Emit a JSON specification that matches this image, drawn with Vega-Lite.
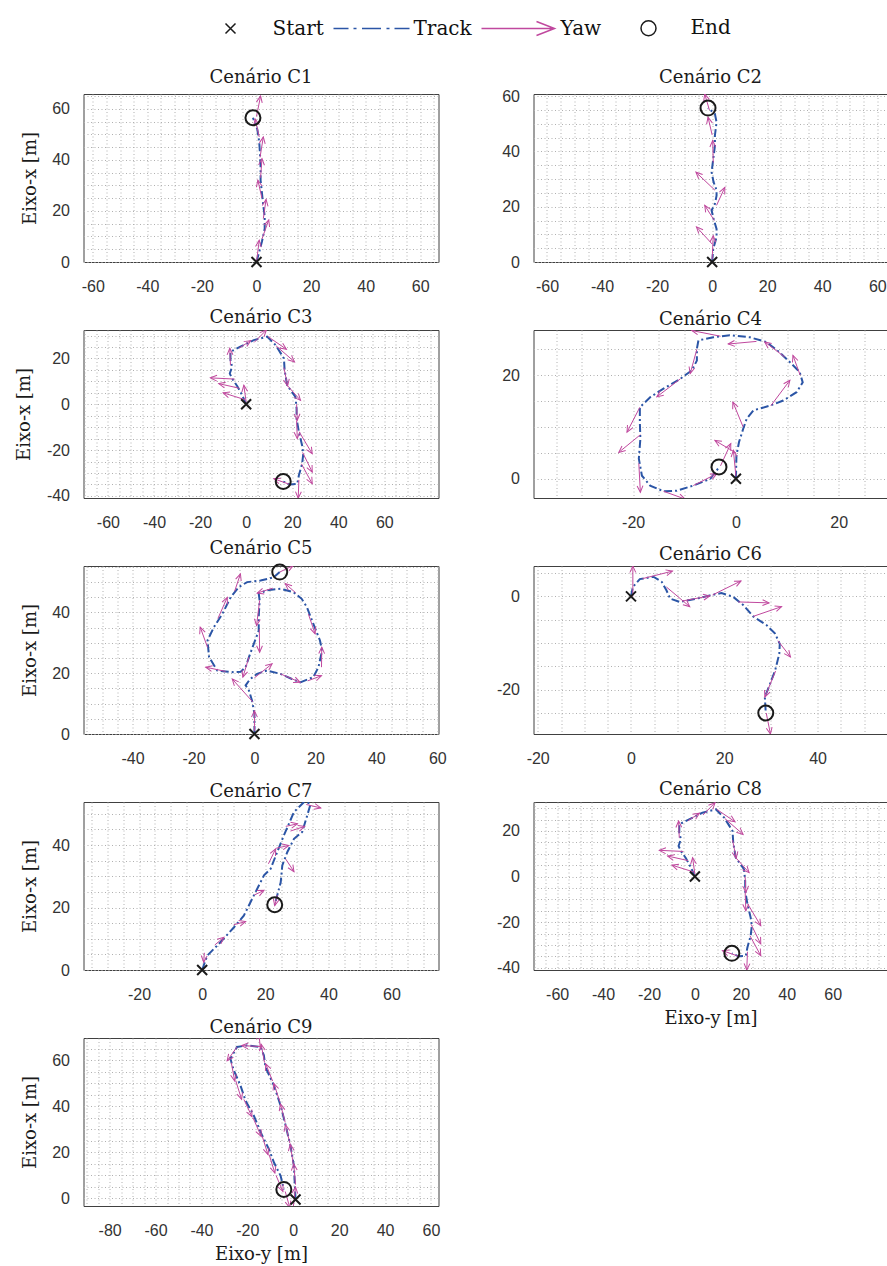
{
"$schema": "https://vega.github.io/schema/vega-lite/v6.json",
"padding": {"left": 14.5, "top": 17, "right": 0, "bottom": 0},
"autosize": {"type": "pad"},
"config": {
  "font": "Liberation Sans",
  "view": {"stroke": "#404040", "strokeWidth": 1},
  "axis": {"labelFont": "Liberation Sans", "labelFontSize": 16, "labelColor": "#333333", "titleFont": "DejaVu Serif", "titleFontSize": 18, "titleFontWeight": "normal", "titleColor": "#1a1a1a", "domain": false, "ticks": false, "grid": true, "gridColor": "#b0b0b0", "gridDash": [1, 2.5], "gridWidth": 1, "labelFlush": false, "labelOverlap": false, "labelBound": false},
  "axisX": {"labelPadding": 16, "titlePadding": 7},
  "axisY": {"labelPadding": 14, "titlePadding": 12.5},
  "title": {"font": "DejaVu Serif", "fontSize": 18, "fontWeight": "normal", "color": "#1a1a1a", "offset": 1, "frame": "group", "anchor": "middle"},
  "legend": {"labelFont": "DejaVu Serif", "labelFontSize": 20, "labelColor": "#111111", "symbolSize": 400, "labelOffset": 31, "columnPadding": 6, "padding": 0, "labelLimit": 0}
},
"datasets": {
  "track": [
    {"s":"C1","i":0,"h":0,"v":0},{"s":"C1","i":1,"h":1,"v":4},{"s":"C1","i":2,"h":2,"v":8},{"s":"C1","i":3,"h":3,"v":13},{"s":"C1","i":4,"h":3,"v":18},{"s":"C1","i":5,"h":2.5,"v":22},{"s":"C1","i":6,"h":2,"v":27},{"s":"C1","i":7,"h":1.5,"v":32},{"s":"C1","i":8,"h":1.5,"v":37},{"s":"C1","i":9,"h":1.3,"v":42},{"s":"C1","i":10,"h":1,"v":47},{"s":"C1","i":11,"h":0.3,"v":52},{"s":"C1","i":12,"h":-1.3,"v":56.5},
    {"s":"C2","i":0,"h":0,"v":0},{"s":"C2","i":1,"h":0.4,"v":4.8},{"s":"C2","i":2,"h":1.6,"v":9},{"s":"C2","i":3,"h":1.6,"v":12},{"s":"C2","i":4,"h":0.4,"v":16},{"s":"C2","i":5,"h":-0.2,"v":18.7},{"s":"C2","i":6,"h":1,"v":21},{"s":"C2","i":7,"h":1.6,"v":24},{"s":"C2","i":8,"h":1.6,"v":26},{"s":"C2","i":9,"h":0.5,"v":29},{"s":"C2","i":10,"h":-0.2,"v":32.5},{"s":"C2","i":11,"h":0.4,"v":37.3},{"s":"C2","i":12,"h":1,"v":42},{"s":"C2","i":13,"h":1,"v":45.8},{"s":"C2","i":14,"h":1.6,"v":50.6},{"s":"C2","i":15,"h":1,"v":53.6},{"s":"C2","i":16,"h":-1.5,"v":55.7},
    {"s":"C3","i":0,"h":0,"v":0},{"s":"C3","i":1,"h":-1.7,"v":3.9},{"s":"C3","i":2,"h":-3.9,"v":8},{"s":"C3","i":3,"h":-6.1,"v":11.2},{"s":"C3","i":4,"h":-7.1,"v":13.4},{"s":"C3","i":5,"h":-6.1,"v":16.4},{"s":"C3","i":6,"h":-6.8,"v":19.3},{"s":"C3","i":7,"h":-6.8,"v":22.9},{"s":"C3","i":8,"h":-2.5,"v":25.1},{"s":"C3","i":9,"h":3.3,"v":28},{"s":"C3","i":10,"h":9.1,"v":29.5},{"s":"C3","i":11,"h":12.8,"v":25.8},{"s":"C3","i":12,"h":16.4,"v":20},{"s":"C3","i":13,"h":16.7,"v":14.9},{"s":"C3","i":14,"h":17.8,"v":8.3},{"s":"C3","i":15,"h":21.4,"v":3.2},{"s":"C3","i":16,"h":21.9,"v":-1.9},{"s":"C3","i":17,"h":21.9,"v":-6.3},{"s":"C3","i":18,"h":22.9,"v":-12.1},{"s":"C3","i":19,"h":24.3,"v":-18},{"s":"C3","i":20,"h":24.8,"v":-21.6},{"s":"C3","i":21,"h":24.3,"v":-26},{"s":"C3","i":22,"h":22.9,"v":-31},{"s":"C3","i":23,"h":22.2,"v":-34.7},{"s":"C3","i":24,"h":19,"v":-35},{"s":"C3","i":25,"h":16.1,"v":-33.7},
    {"s":"C4","i":0,"h":0,"v":0},{"s":"C4","i":1,"h":0.1,"v":4.5},{"s":"C4","i":2,"h":0.6,"v":7.1},{"s":"C4","i":3,"h":1.4,"v":9.6},{"s":"C4","i":4,"h":2.1,"v":11.6},{"s":"C4","i":5,"h":3.4,"v":13.2},{"s":"C4","i":6,"h":6.6,"v":14.1},{"s":"C4","i":7,"h":9.2,"v":15.1},{"s":"C4","i":8,"h":11.8,"v":16.7},{"s":"C4","i":9,"h":13,"v":18.6},{"s":"C4","i":10,"h":12.4,"v":20.6},{"s":"C4","i":11,"h":10.5,"v":22.5},{"s":"C4","i":12,"h":8.5,"v":24.4},{"s":"C4","i":13,"h":5.9,"v":26.4},{"s":"C4","i":14,"h":2.7,"v":27.3},{"s":"C4","i":15,"h":-1.2,"v":27.7},{"s":"C4","i":16,"h":-4.4,"v":27.3},{"s":"C4","i":17,"h":-7.3,"v":26.7},{"s":"C4","i":18,"h":-7.6,"v":25.1},{"s":"C4","i":19,"h":-7.6,"v":22.8},{"s":"C4","i":20,"h":-8.6,"v":20.9},{"s":"C4","i":21,"h":-10.8,"v":19.3},{"s":"C4","i":22,"h":-14.1,"v":17.4},{"s":"C4","i":23,"h":-16.6,"v":15.8},{"s":"C4","i":24,"h":-18.7,"v":13.8},{"s":"C4","i":25,"h":-18.7,"v":10.9},{"s":"C4","i":26,"h":-18.6,"v":7.7},{"s":"C4","i":27,"h":-18.9,"v":3.9},{"s":"C4","i":28,"h":-18.3,"v":0.6},{"s":"C4","i":29,"h":-16.7,"v":-1.3},{"s":"C4","i":30,"h":-14.1,"v":-2.4},{"s":"C4","i":31,"h":-11.5,"v":-2.3},{"s":"C4","i":32,"h":-8.3,"v":-1.3},{"s":"C4","i":33,"h":-5,"v":0},{"s":"C4","i":34,"h":-3.3,"v":2.2},
    {"s":"C5","i":0,"h":0,"v":0},{"s":"C5","i":1,"h":0,"v":6.6},{"s":"C5","i":2,"h":-0.8,"v":11},{"s":"C5","i":3,"h":-1.8,"v":14.3},{"s":"C5","i":4,"h":-2.9,"v":16},{"s":"C5","i":5,"h":-1.5,"v":18},{"s":"C5","i":6,"h":0.9,"v":19.8},{"s":"C5","i":7,"h":4.1,"v":20.9},{"s":"C5","i":8,"h":8.5,"v":19.8},{"s":"C5","i":9,"h":12.3,"v":18.1},{"s":"C5","i":10,"h":15,"v":17},{"s":"C5","i":11,"h":19.3,"v":18.7},{"s":"C5","i":12,"h":21,"v":22},{"s":"C5","i":13,"h":22.2,"v":27.5},{"s":"C5","i":14,"h":21.5,"v":30.8},{"s":"C5","i":15,"h":19.3,"v":36.3},{"s":"C5","i":16,"h":17.2,"v":41.8},{"s":"C5","i":17,"h":15.5,"v":44.5},{"s":"C5","i":18,"h":12.8,"v":46.7},{"s":"C5","i":19,"h":8.5,"v":47.8},{"s":"C5","i":20,"h":4.1,"v":47.3},{"s":"C5","i":21,"h":1.4,"v":46.2},{"s":"C5","i":22,"h":1.7,"v":44},{"s":"C5","i":23,"h":1.4,"v":38.5},{"s":"C5","i":24,"h":1.4,"v":34},{"s":"C5","i":25,"h":-0.2,"v":29.7},{"s":"C5","i":26,"h":-1.8,"v":25.3},{"s":"C5","i":27,"h":-2.9,"v":22},{"s":"C5","i":28,"h":-4.5,"v":20.5},{"s":"C5","i":29,"h":-6.7,"v":20.3},{"s":"C5","i":30,"h":-9.5,"v":20.6},{"s":"C5","i":31,"h":-12.2,"v":20.9},{"s":"C5","i":32,"h":-14.9,"v":25.3},{"s":"C5","i":33,"h":-15.4,"v":30.8},{"s":"C5","i":34,"h":-13.3,"v":35.2},{"s":"C5","i":35,"h":-10.5,"v":39.6},{"s":"C5","i":36,"h":-7.8,"v":45},{"s":"C5","i":37,"h":-5.1,"v":48.4},{"s":"C5","i":38,"h":-2.4,"v":50},{"s":"C5","i":39,"h":2,"v":50.5},{"s":"C5","i":40,"h":6.3,"v":51.6},{"s":"C5","i":41,"h":8.3,"v":53.3},
    {"s":"C6","i":0,"h":0,"v":0},{"s":"C6","i":1,"h":0.4,"v":2},{"s":"C6","i":2,"h":1.9,"v":3.7},{"s":"C6","i":3,"h":4.8,"v":4.2},{"s":"C6","i":4,"h":6.6,"v":3.1},{"s":"C6","i":5,"h":7.6,"v":1.3},{"s":"C6","i":6,"h":8.4,"v":-0.5},{"s":"C6","i":7,"h":10.5,"v":-1.2},{"s":"C6","i":8,"h":14.1,"v":-0.5},{"s":"C6","i":9,"h":16.9,"v":0.2},{"s":"C6","i":10,"h":19.4,"v":0.7},{"s":"C6","i":11,"h":21.9,"v":-0.1},{"s":"C6","i":12,"h":24.1,"v":-1.9},{"s":"C6","i":13,"h":26.2,"v":-4.3},{"s":"C6","i":14,"h":29.1,"v":-6.2},{"s":"C6","i":15,"h":30.9,"v":-8},{"s":"C6","i":16,"h":31.9,"v":-10.2},{"s":"C6","i":17,"h":31.8,"v":-12.3},{"s":"C6","i":18,"h":30.9,"v":-15.9},{"s":"C6","i":19,"h":29.8,"v":-18.8},{"s":"C6","i":20,"h":28.7,"v":-21.6},{"s":"C6","i":21,"h":28.9,"v":-25},
    {"s":"C7","i":0,"h":0,"v":0},{"s":"C7","i":1,"h":1.6,"v":4.6},{"s":"C7","i":2,"h":5.8,"v":8.9},{"s":"C7","i":3,"h":10.1,"v":13.7},{"s":"C7","i":4,"h":13.2,"v":17.4},{"s":"C7","i":5,"h":16.4,"v":23.9},{"s":"C7","i":6,"h":19.6,"v":30.3},{"s":"C7","i":7,"h":21.7,"v":32.4},{"s":"C7","i":8,"h":23.8,"v":37.8},{"s":"C7","i":9,"h":25.9,"v":43.1},{"s":"C7","i":10,"h":29.1,"v":50.6},{"s":"C7","i":11,"h":32.3,"v":53.8},{"s":"C7","i":12,"h":34.4,"v":53.3},{"s":"C7","i":13,"h":33.3,"v":49.5},{"s":"C7","i":14,"h":31.7,"v":44.2},{"s":"C7","i":15,"h":29.1,"v":42},{"s":"C7","i":16,"h":27,"v":37.8},{"s":"C7","i":17,"h":25.4,"v":33.5},{"s":"C7","i":18,"h":24.9,"v":28.1},{"s":"C7","i":19,"h":23.8,"v":23.9},{"s":"C7","i":20,"h":23,"v":20.9},
    {"s":"C9","i":0,"h":1,"v":-0.5},{"s":"C9","i":1,"h":0.3,"v":14.1},{"s":"C9","i":2,"h":-1.2,"v":22.9},{"s":"C9","i":3,"h":-3.3,"v":31.6},{"s":"C9","i":4,"h":-5.5,"v":40.3},{"s":"C9","i":5,"h":-8.4,"v":49},{"s":"C9","i":6,"h":-12.1,"v":57},{"s":"C9","i":7,"h":-12.8,"v":62.2},{"s":"C9","i":8,"h":-14.3,"v":65.8},{"s":"C9","i":9,"h":-20.1,"v":66.5},{"s":"C9","i":10,"h":-24.5,"v":65.8},{"s":"C9","i":11,"h":-27.4,"v":60.7},{"s":"C9","i":12,"h":-25.9,"v":55.6},{"s":"C9","i":13,"h":-23,"v":49.1},{"s":"C9","i":14,"h":-20.8,"v":42.5},{"s":"C9","i":15,"h":-17.2,"v":36},{"s":"C9","i":16,"h":-13.5,"v":27.2},{"s":"C9","i":17,"h":-10.6,"v":21.4},{"s":"C9","i":18,"h":-8.4,"v":15.6},{"s":"C9","i":19,"h":-5.5,"v":9.8},{"s":"C9","i":20,"h":-4.1,"v":3.9}
  ],
  "yaw": [
    {"s":"C1","ht":0,"vt":0,"h":1,"v":8.5,"a":7},{"s":"C1","ht":2,"vt":9,"h":4.5,"v":16.5,"a":18},{"s":"C1","ht":2.5,"vt":17,"h":3.5,"v":24.5,"a":8},{"s":"C1","ht":2,"vt":25,"h":0.5,"v":32,"a":-12},{"s":"C1","ht":1.5,"vt":33,"h":2,"v":40.5,"a":4},{"s":"C1","ht":1.3,"vt":41,"h":2.5,"v":49,"a":9},{"s":"C1","ht":1,"vt":49,"h":-0.5,"v":56,"a":-12},{"s":"C1","ht":0,"vt":57,"h":1.5,"v":65,"a":11},
    {"s":"C2","ht":0,"vt":1,"h":0.4,"v":9.5,"a":3},{"s":"C2","ht":0,"vt":6.5,"h":-5.7,"v":12.7,"a":-43},{"s":"C2","ht":0.8,"vt":15,"h":-2.7,"v":20.5,"a":-32},{"s":"C2","ht":1.6,"vt":20.5,"h":4.6,"v":27,"a":25},{"s":"C2","ht":1,"vt":26,"h":-5.9,"v":32.5,"a":-47},{"s":"C2","ht":0.4,"vt":36,"h":0.2,"v":44,"a":-1},{"s":"C2","ht":0,"vt":46,"h":-1.5,"v":52.4,"a":-13},{"s":"C2","ht":-1,"vt":55,"h":-2.7,"v":60.8,"a":-16},
    {"s":"C3","ht":0,"vt":1,"h":-1,"v":8.3,"a":-8},{"s":"C3","ht":-0.5,"vt":2,"h":-10,"v":5,"a":-72},{"s":"C3","ht":-3,"vt":7,"h":-11.9,"v":9,"a":-77},{"s":"C3","ht":-5,"vt":11,"h":-15.5,"v":11.5,"a":-87},{"s":"C3","ht":-6.8,"vt":17,"h":-7.1,"v":24.4,"a":-2},{"s":"C3","ht":-3,"vt":24.5,"h":2,"v":27.8,"a":57},{"s":"C3","ht":3.5,"vt":27,"h":8.8,"v":32.4,"a":44},{"s":"C3","ht":9.5,"vt":29.5,"h":17.5,"v":24,"a":124},{"s":"C3","ht":13,"vt":25.5,"h":21,"v":18.5,"a":131},{"s":"C3","ht":16.4,"vt":16,"h":18,"v":8,"a":169},{"s":"C3","ht":17.8,"vt":8.3,"h":23.6,"v":1.7,"a":139},{"s":"C3","ht":21.9,"vt":0,"h":22.2,"v":-7,"a":178},{"s":"C3","ht":21.9,"vt":-7,"h":22.2,"v":-15,"a":178},{"s":"C3","ht":23,"vt":-12,"h":28.7,"v":-21.6,"a":149},{"s":"C3","ht":24.5,"vt":-21,"h":28.7,"v":-29.6,"a":154},{"s":"C3","ht":24,"vt":-26,"h":28.7,"v":-34.7,"a":152},{"s":"C3","ht":22.9,"vt":-33,"h":22.6,"v":-41,"a":182},{"s":"C3","ht":19,"vt":-35,"h":12,"v":-32.5,"a":-70},
    {"s":"C4","ht":0,"vt":0.5,"h":-0.5,"v":5.5,"a":-6},{"s":"C4","ht":0,"vt":5,"h":-4.1,"v":7.4,"a":-60},{"s":"C4","ht":-3,"vt":2.5,"h":-1,"v":6.8,"a":25},{"s":"C4","ht":1.4,"vt":10,"h":-0.6,"v":14.8,"a":-23},{"s":"C4","ht":6.8,"vt":14.1,"h":10.5,"v":19,"a":37},{"s":"C4","ht":12.5,"vt":20,"h":11.1,"v":23.8,"a":-20},{"s":"C4","ht":9.5,"vt":23.5,"h":5.6,"v":26.4,"a":-53},{"s":"C4","ht":4,"vt":26.5,"h":-1.5,"v":26,"a":-95},{"s":"C4","ht":-3,"vt":27.5,"h":-8.6,"v":28.6,"a":-79},{"s":"C4","ht":-7.6,"vt":25,"h":-8.9,"v":20.3,"a":-165},{"s":"C4","ht":-10.8,"vt":19.3,"h":-15.4,"v":15.8,"a":-127},{"s":"C4","ht":-18.7,"vt":13.8,"h":-21.2,"v":9,"a":-152},{"s":"C4","ht":-18.6,"vt":8.5,"h":-22.8,"v":5.1,"a":-129},{"s":"C4","ht":-18.9,"vt":3,"h":-18.6,"v":-2.6,"a":177},{"s":"C4","ht":-14.1,"vt":-2.4,"h":-9.9,"v":-3.9,"a":110},{"s":"C4","ht":-8.3,"vt":-1.3,"h":-3.7,"v":1,"a":63},
    {"s":"C5","ht":0,"vt":1,"h":0,"v":7.7,"a":0},{"s":"C5","ht":-0.5,"vt":10.5,"h":-7.3,"v":18.1,"a":-42},{"s":"C5","ht":-1.8,"vt":25.3,"h":-3.8,"v":18.7,"a":-163},{"s":"C5","ht":0,"vt":18.5,"h":5.8,"v":23.1,"a":52},{"s":"C5","ht":8.5,"vt":19.8,"h":15,"v":17,"a":113},{"s":"C5","ht":17.5,"vt":17.5,"h":22,"v":19.2,"a":69},{"s":"C5","ht":22,"vt":22,"h":22.1,"v":28.6,"a":1},{"s":"C5","ht":17.7,"vt":39.5,"h":19.9,"v":33,"a":161},{"s":"C5","ht":13.5,"vt":46.5,"h":10.1,"v":49.5,"a":-49},{"s":"C5","ht":6,"vt":48,"h":0.9,"v":46.4,"a":-107},{"s":"C5","ht":1.7,"vt":44,"h":0.7,"v":35.7,"a":-173},{"s":"C5","ht":1.6,"vt":34.5,"h":1.7,"v":26.9,"a":179},{"s":"C5","ht":-9.5,"vt":20.6,"h":-16,"v":22,"a":-78},{"s":"C5","ht":-15.4,"vt":28.5,"h":-17.8,"v":35.2,"a":-20},{"s":"C5","ht":-12,"vt":38,"h":-8.9,"v":45,"a":24},{"s":"C5","ht":-6.5,"vt":47,"h":-4.6,"v":52.7,"a":18},{"s":"C5","ht":8.3,"vt":53.3,"h":12.8,"v":55.5,"a":64},
    {"s":"C6","ht":0.4,"vt":0,"h":0.4,"v":6.5,"a":0},{"s":"C6","ht":2.5,"vt":3.8,"h":8.9,"v":5.4,"a":76},{"s":"C6","ht":7.6,"vt":2,"h":12.6,"v":-2.2,"a":130},{"s":"C6","ht":11,"vt":-1,"h":16.9,"v":0.1,"a":79},{"s":"C6","ht":17.5,"vt":0.3,"h":23.6,"v":3.3,"a":64},{"s":"C6","ht":23,"vt":-1.2,"h":29.6,"v":-1.4,"a":92},{"s":"C6","ht":26.2,"vt":-4.3,"h":32.3,"v":-2.2,"a":71},{"s":"C6","ht":31.5,"vt":-9.5,"h":34.2,"v":-13,"a":142},{"s":"C6","ht":31,"vt":-16,"h":28.7,"v":-21.6,"a":-158},{"s":"C6","ht":29,"vt":-25,"h":29.9,"v":-29.5,"a":169},
    {"s":"C7","ht":0.7,"vt":5.5,"h":0.5,"v":2.5,"a":-176},{"s":"C7","ht":4,"vt":8,"h":6.9,"v":10.5,"a":49},{"s":"C7","ht":10,"vt":14.5,"h":13.8,"v":15.5,"a":75},{"s":"C7","ht":16.5,"vt":24,"h":19.6,"v":25.5,"a":64},{"s":"C7","ht":21,"vt":34,"h":23.3,"v":38.8,"a":26},{"s":"C7","ht":23.5,"vt":39,"h":27.5,"v":39.9,"a":77},{"s":"C7","ht":26.5,"vt":46,"h":30.2,"v":46.8,"a":78},{"s":"C7","ht":28,"vt":44.5,"h":32.5,"v":46,"a":72},{"s":"C7","ht":33,"vt":53,"h":37.6,"v":51.9,"a":103},{"s":"C7","ht":26.5,"vt":35.5,"h":29.1,"v":31.5,"a":147},{"s":"C7","ht":23.8,"vt":24,"h":23,"v":20.6,"a":-167},
    {"s":"C9","ht":0,"vt":-4,"h":1,"v":5,"a":6},{"s":"C9","ht":1,"vt":6,"h":0.2,"v":15,"a":-5},{"s":"C9","ht":0,"vt":15,"h":-1.3,"v":23.5,"a":-9},{"s":"C9","ht":-1.5,"vt":24,"h":-3.4,"v":32,"a":-13},{"s":"C9","ht":-3.5,"vt":33,"h":-5.6,"v":41,"a":-15},{"s":"C9","ht":-5.8,"vt":42,"h":-8.5,"v":50,"a":-19},{"s":"C9","ht":-9,"vt":51,"h":-12,"v":58.5,"a":-22},{"s":"C9","ht":-12.5,"vt":59,"h":-14,"v":67,"a":-11},{"s":"C9","ht":-14.3,"vt":65,"h":-15,"v":72,"a":-6},{"s":"C9","ht":-14.5,"vt":66,"h":-22.5,"v":66.4,"a":-87},{"s":"C9","ht":-24.5,"vt":65.8,"h":-28.8,"v":59.8,"a":-144},{"s":"C9","ht":-27,"vt":59,"h":-25.5,"v":51,"a":169},{"s":"C9","ht":-25,"vt":51,"h":-22.5,"v":43,"a":163},{"s":"C9","ht":-21.5,"vt":43,"h":-18,"v":35.5,"a":155},{"s":"C9","ht":-17.5,"vt":35,"h":-14,"v":27,"a":156},{"s":"C9","ht":-13.5,"vt":27,"h":-11,"v":19,"a":163},{"s":"C9","ht":-10.5,"vt":19,"h":-8,"v":11,"a":163},{"s":"C9","ht":-7.5,"vt":10,"h":-4.5,"v":3,"a":157},{"s":"C9","ht":-3.5,"vt":3,"h":-1.5,"v":-4,"a":164}
  ],
  "pts": [
    {"s":"C1","k":"Start","h":0,"v":0},{"s":"C1","k":"End","h":-1.3,"v":56.5},
    {"s":"C2","k":"Start","h":0,"v":0},{"s":"C2","k":"End","h":-1.5,"v":55.7},
    {"s":"C3","k":"Start","h":0,"v":0},{"s":"C3","k":"End","h":16.1,"v":-33.7},
    {"s":"C4","k":"Start","h":0,"v":0},{"s":"C4","k":"End","h":-3.3,"v":2.3},
    {"s":"C5","k":"Start","h":0,"v":0},{"s":"C5","k":"End","h":8.3,"v":53.3},
    {"s":"C6","k":"Start","h":0,"v":0},{"s":"C6","k":"End","h":28.9,"v":-25},
    {"s":"C7","k":"Start","h":0,"v":0},{"s":"C7","k":"End","h":23,"v":20.9},
    {"s":"C9","k":"Start","h":1,"v":-0.5},{"s":"C9","k":"End","h":-4.1,"v":3.9}
  ]
},
"columns": 2,
"spacing": {"row": 68, "column": 95},
"bounds": "flush",
"resolve": {"scale": {"shape": "shared", "color": "shared"}, "legend": {"shape": "shared", "color": "shared"}},
"concat": [
  {"width":355,"height":168,"title":"Cenário C1",
   "encoding":{"x":{"field":"h","type":"quantitative","scale":{"domain":[-63.4,66.7],"nice":false,"zero":false},"axis":{"title":null,"values":[-60,-55,-50,-45,-40,-35,-30,-25,-20,-15,-10,-5,0,5,10,15,20,25,30,35,40,45,50,55,60,65],"labelExpr":"datum.value % 20 === 0 ? '' + datum.value : ''"}},
               "y":{"field":"v","type":"quantitative","scale":{"domain":[0,65.8],"nice":false,"zero":false},"axis":{"title":"Eixo-x [m]","values":[0,5,10,15,20,25,30,35,40,45,50,55,60,65],"labelExpr":"datum.value % 20 === 0 ? '' + datum.value : ''"}}},
   "layer":[
    {"data":{"name":"track"},"transform":[{"filter":"datum.s === 'C1'"}],"mark":{"type":"line","clip":true,"color":"#2b55a6","strokeWidth":2,"strokeDash":[8,3,2,3]},"encoding":{"order":{"field":"i","type":"quantitative"}}},
    {"data":{"name":"yaw"},"transform":[{"filter":"datum.s === 'C1'"}],"mark":{"type":"rule","clip":true,"color":"#c0489e","strokeWidth":1},"encoding":{"x2":{"field":"ht"},"y2":{"field":"vt"}}},
    {"data":{"name":"yaw"},"transform":[{"filter":"datum.s === 'C1'"}],"mark":{"type":"point","clip":true,"shape":"M-0.45,1L0,0L0.45,1","filled":false,"color":"#c0489e","strokeWidth":1,"size":169,"opacity":1},"encoding":{"angle":{"field":"a","type":"quantitative","scale":null}}},
    {"data":{"name":"pts"},"transform":[{"filter":"datum.s === 'C1'"}],"mark":{"type":"point","filled":false,"strokeWidth":2,"size":400,"opacity":1},"encoding":{
      "shape":{"field":"k","type":"nominal","scale":{"domain":["Start","Track","Yaw","End"],"range":["M-3.8,0M3.8,0M-0.5,-0.5L0.5,0.5M-0.5,0.5L0.5,-0.5","M-3.8,0L-2.3,0M-1.8,0L-1.5,0M-0.95,0L0.95,0M1.5,0L1.8,0M2.3,0L3.8,0","M-3.7,0L3.6,0M1.8,-0.7L3.6,0L1.8,0.7","M-3.8,0M3.8,0M0.75,0A0.75,0.75 0 1 1 -0.75,0A0.75,0.75 0 1 1 0.75,0Z"]},"legend":{"orient":"none","legendX":136,"legendY":-77,"direction":"horizontal","title":null}},
      "color":{"field":"k","type":"nominal","scale":{"domain":["Start","Track","Yaw","End"],"range":["#1a1a1a","#2b55a6","#c0489e","#1a1a1a"]},"legend":{"orient":"none","legendX":136,"legendY":-77,"direction":"horizontal","title":null}}}}
   ]},
  {"width":354,"height":168,"title":"Cenário C2",
   "encoding":{"x":{"field":"h","type":"quantitative","scale":{"domain":[-64.9,63.7],"nice":false,"zero":false},"axis":{"title":null,"values":[-60,-55,-50,-45,-40,-35,-30,-25,-20,-15,-10,-5,0,5,10,15,20,25,30,35,40,45,50,55,60],"labelExpr":"datum.value % 20 === 0 ? '' + datum.value : ''"}},
               "y":{"field":"v","type":"quantitative","scale":{"domain":[0,60.8],"nice":false,"zero":false},"axis":{"title":null,"values":[0,5,10,15,20,25,30,35,40,45,50,55,60],"labelExpr":"datum.value % 20 === 0 ? '' + datum.value : ''"}}},
   "layer":[
    {"data":{"name":"track"},"transform":[{"filter":"datum.s === 'C2'"}],"mark":{"type":"line","clip":true,"color":"#2b55a6","strokeWidth":2,"strokeDash":[8,3,2,3]},"encoding":{"order":{"field":"i","type":"quantitative"}}},
    {"data":{"name":"yaw"},"transform":[{"filter":"datum.s === 'C2'"}],"mark":{"type":"rule","clip":true,"color":"#c0489e","strokeWidth":1},"encoding":{"x2":{"field":"ht"},"y2":{"field":"vt"}}},
    {"data":{"name":"yaw"},"transform":[{"filter":"datum.s === 'C2'"}],"mark":{"type":"point","clip":true,"shape":"M-0.45,1L0,0L0.45,1","filled":false,"color":"#c0489e","strokeWidth":1,"size":169,"opacity":1},"encoding":{"angle":{"field":"a","type":"quantitative","scale":null}}},
    {"data":{"name":"pts"},"transform":[{"filter":"datum.s === 'C2'"}],"mark":{"type":"point","filled":false,"strokeWidth":2,"size":400,"opacity":1},"encoding":{
      "shape":{"field":"k","type":"nominal","scale":{"domain":["Start","Track","Yaw","End"],"range":["M-3.8,0M3.8,0M-0.5,-0.5L0.5,0.5M-0.5,0.5L0.5,-0.5","M-3.8,0L-2.3,0M-1.8,0L-1.5,0M-0.95,0L0.95,0M1.5,0L1.8,0M2.3,0L3.8,0","M-3.7,0L3.6,0M1.8,-0.7L3.6,0L1.8,0.7","M-3.8,0M3.8,0M0.75,0A0.75,0.75 0 1 1 -0.75,0A0.75,0.75 0 1 1 0.75,0Z"]},"legend":{"orient":"none","legendX":136,"legendY":-77,"direction":"horizontal","title":null}},
      "color":{"field":"k","type":"nominal","scale":{"domain":["Start","Track","Yaw","End"],"range":["#1a1a1a","#2b55a6","#c0489e","#1a1a1a"]},"legend":{"orient":"none","legendX":136,"legendY":-77,"direction":"horizontal","title":null}}}}
   ]},
  {"width":355,"height":168,"title":"Cenário C3",
   "encoding":{"x":{"field":"h","type":"quantitative","scale":{"domain":[-70.6,83.5],"nice":false,"zero":false},"axis":{"title":null,"values":[-70,-65,-60,-55,-50,-45,-40,-35,-30,-25,-20,-15,-10,-5,0,5,10,15,20,25,30,35,40,45,50,55,60,65,70,75,80],"labelExpr":"datum.value % 20 === 0 && datum.value < 70 ? '' + datum.value : ''"}},
               "y":{"field":"v","type":"quantitative","scale":{"domain":[-40.9,32.4],"nice":false,"zero":false},"axis":{"title":"Eixo-x [m]","values":[-40,-35,-30,-25,-20,-15,-10,-5,0,5,10,15,20,25,30],"labelExpr":"datum.value % 20 === 0 ? '' + datum.value : ''"}}},
   "layer":[
    {"data":{"name":"track"},"transform":[{"filter":"datum.s === 'C3'"}],"mark":{"type":"line","clip":true,"color":"#2b55a6","strokeWidth":2,"strokeDash":[8,3,2,3]},"encoding":{"order":{"field":"i","type":"quantitative"}}},
    {"data":{"name":"yaw"},"transform":[{"filter":"datum.s === 'C3'"}],"mark":{"type":"rule","clip":true,"color":"#c0489e","strokeWidth":1},"encoding":{"x2":{"field":"ht"},"y2":{"field":"vt"}}},
    {"data":{"name":"yaw"},"transform":[{"filter":"datum.s === 'C3'"}],"mark":{"type":"point","clip":true,"shape":"M-0.45,1L0,0L0.45,1","filled":false,"color":"#c0489e","strokeWidth":1,"size":169,"opacity":1},"encoding":{"angle":{"field":"a","type":"quantitative","scale":null}}},
    {"data":{"name":"pts"},"transform":[{"filter":"datum.s === 'C3'"}],"mark":{"type":"point","filled":false,"strokeWidth":2,"size":400,"opacity":1},"encoding":{
      "shape":{"field":"k","type":"nominal","scale":{"domain":["Start","Track","Yaw","End"],"range":["M-3.8,0M3.8,0M-0.5,-0.5L0.5,0.5M-0.5,0.5L0.5,-0.5","M-3.8,0L-2.3,0M-1.8,0L-1.5,0M-0.95,0L0.95,0M1.5,0L1.8,0M2.3,0L3.8,0","M-3.7,0L3.6,0M1.8,-0.7L3.6,0L1.8,0.7","M-3.8,0M3.8,0M0.75,0A0.75,0.75 0 1 1 -0.75,0A0.75,0.75 0 1 1 0.75,0Z"]},"legend":{"orient":"none","legendX":136,"legendY":-77,"direction":"horizontal","title":null}},
      "color":{"field":"k","type":"nominal","scale":{"domain":["Start","Track","Yaw","End"],"range":["#1a1a1a","#2b55a6","#c0489e","#1a1a1a"]},"legend":{"orient":"none","legendX":136,"legendY":-77,"direction":"horizontal","title":null}}}}
   ]},
  {"width":354,"height":168,"title":"Cenário C4",
   "encoding":{"x":{"field":"h","type":"quantitative","scale":{"domain":[-39.4,29.5],"nice":false,"zero":false},"axis":{"title":null,"values":[-35,-30,-25,-20,-15,-10,-5,0,5,10,15,20,25],"labelExpr":"datum.value % 20 === 0 ? '' + datum.value : ''"}},
               "y":{"field":"v","type":"quantitative","scale":{"domain":[-3.7,28.7],"nice":false,"zero":false},"axis":{"title":null,"values":[0,5,10,15,20,25],"labelExpr":"datum.value % 20 === 0 ? '' + datum.value : ''"}}},
   "layer":[
    {"data":{"name":"track"},"transform":[{"filter":"datum.s === 'C4'"}],"mark":{"type":"line","clip":true,"color":"#2b55a6","strokeWidth":2,"strokeDash":[8,3,2,3]},"encoding":{"order":{"field":"i","type":"quantitative"}}},
    {"data":{"name":"yaw"},"transform":[{"filter":"datum.s === 'C4'"}],"mark":{"type":"rule","clip":true,"color":"#c0489e","strokeWidth":1},"encoding":{"x2":{"field":"ht"},"y2":{"field":"vt"}}},
    {"data":{"name":"yaw"},"transform":[{"filter":"datum.s === 'C4'"}],"mark":{"type":"point","clip":true,"shape":"M-0.45,1L0,0L0.45,1","filled":false,"color":"#c0489e","strokeWidth":1,"size":169,"opacity":1},"encoding":{"angle":{"field":"a","type":"quantitative","scale":null}}},
    {"data":{"name":"pts"},"transform":[{"filter":"datum.s === 'C4'"}],"mark":{"type":"point","filled":false,"strokeWidth":2,"size":400,"opacity":1},"encoding":{
      "shape":{"field":"k","type":"nominal","scale":{"domain":["Start","Track","Yaw","End"],"range":["M-3.8,0M3.8,0M-0.5,-0.5L0.5,0.5M-0.5,0.5L0.5,-0.5","M-3.8,0L-2.3,0M-1.8,0L-1.5,0M-0.95,0L0.95,0M1.5,0L1.8,0M2.3,0L3.8,0","M-3.7,0L3.6,0M1.8,-0.7L3.6,0L1.8,0.7","M-3.8,0M3.8,0M0.75,0A0.75,0.75 0 1 1 -0.75,0A0.75,0.75 0 1 1 0.75,0Z"]},"legend":{"orient":"none","legendX":136,"legendY":-77,"direction":"horizontal","title":null}},
      "color":{"field":"k","type":"nominal","scale":{"domain":["Start","Track","Yaw","End"],"range":["#1a1a1a","#2b55a6","#c0489e","#1a1a1a"]},"legend":{"orient":"none","legendX":136,"legendY":-77,"direction":"horizontal","title":null}}}}
   ]},
  {"width":355,"height":168,"title":"Cenário C5",
   "encoding":{"x":{"field":"h","type":"quantitative","scale":{"domain":[-56.1,60.4],"nice":false,"zero":false},"axis":{"title":null,"values":[-55,-50,-45,-40,-35,-30,-25,-20,-15,-10,-5,0,5,10,15,20,25,30,35,40,45,50,55,60],"labelExpr":"datum.value % 20 === 0 ? '' + datum.value : ''"}},
               "y":{"field":"v","type":"quantitative","scale":{"domain":[0,55.3],"nice":false,"zero":false},"axis":{"title":"Eixo-x [m]","values":[0,5,10,15,20,25,30,35,40,45,50,55],"labelExpr":"datum.value % 20 === 0 ? '' + datum.value : ''"}}},
   "layer":[
    {"data":{"name":"track"},"transform":[{"filter":"datum.s === 'C5'"}],"mark":{"type":"line","clip":true,"color":"#2b55a6","strokeWidth":2,"strokeDash":[8,3,2,3]},"encoding":{"order":{"field":"i","type":"quantitative"}}},
    {"data":{"name":"yaw"},"transform":[{"filter":"datum.s === 'C5'"}],"mark":{"type":"rule","clip":true,"color":"#c0489e","strokeWidth":1},"encoding":{"x2":{"field":"ht"},"y2":{"field":"vt"}}},
    {"data":{"name":"yaw"},"transform":[{"filter":"datum.s === 'C5'"}],"mark":{"type":"point","clip":true,"shape":"M-0.45,1L0,0L0.45,1","filled":false,"color":"#c0489e","strokeWidth":1,"size":169,"opacity":1},"encoding":{"angle":{"field":"a","type":"quantitative","scale":null}}},
    {"data":{"name":"pts"},"transform":[{"filter":"datum.s === 'C5'"}],"mark":{"type":"point","filled":false,"strokeWidth":2,"size":400,"opacity":1},"encoding":{
      "shape":{"field":"k","type":"nominal","scale":{"domain":["Start","Track","Yaw","End"],"range":["M-3.8,0M3.8,0M-0.5,-0.5L0.5,0.5M-0.5,0.5L0.5,-0.5","M-3.8,0L-2.3,0M-1.8,0L-1.5,0M-0.95,0L0.95,0M1.5,0L1.8,0M2.3,0L3.8,0","M-3.7,0L3.6,0M1.8,-0.7L3.6,0L1.8,0.7","M-3.8,0M3.8,0M0.75,0A0.75,0.75 0 1 1 -0.75,0A0.75,0.75 0 1 1 0.75,0Z"]},"legend":{"orient":"none","legendX":136,"legendY":-77,"direction":"horizontal","title":null}},
      "color":{"field":"k","type":"nominal","scale":{"domain":["Start","Track","Yaw","End"],"range":["#1a1a1a","#2b55a6","#c0489e","#1a1a1a"]},"legend":{"orient":"none","legendX":136,"legendY":-77,"direction":"horizontal","title":null}}}}
   ]},
  {"width":354,"height":168,"title":"Cenário C6",
   "encoding":{"x":{"field":"h","type":"quantitative","scale":{"domain":[-20.9,55],"nice":false,"zero":false},"axis":{"title":null,"values":[-20,-15,-10,-5,0,5,10,15,20,25,30,35,40,45,50],"labelExpr":"datum.value % 20 === 0 ? '' + datum.value : ''"}},
               "y":{"field":"v","type":"quantitative","scale":{"domain":[-29.5,6.5],"nice":false,"zero":false},"axis":{"title":null,"values":[-25,-20,-15,-10,-5,0,5],"labelExpr":"datum.value % 20 === 0 ? '' + datum.value : ''"}}},
   "layer":[
    {"data":{"name":"track"},"transform":[{"filter":"datum.s === 'C6'"}],"mark":{"type":"line","clip":true,"color":"#2b55a6","strokeWidth":2,"strokeDash":[8,3,2,3]},"encoding":{"order":{"field":"i","type":"quantitative"}}},
    {"data":{"name":"yaw"},"transform":[{"filter":"datum.s === 'C6'"}],"mark":{"type":"rule","clip":true,"color":"#c0489e","strokeWidth":1},"encoding":{"x2":{"field":"ht"},"y2":{"field":"vt"}}},
    {"data":{"name":"yaw"},"transform":[{"filter":"datum.s === 'C6'"}],"mark":{"type":"point","clip":true,"shape":"M-0.45,1L0,0L0.45,1","filled":false,"color":"#c0489e","strokeWidth":1,"size":169,"opacity":1},"encoding":{"angle":{"field":"a","type":"quantitative","scale":null}}},
    {"data":{"name":"pts"},"transform":[{"filter":"datum.s === 'C6'"}],"mark":{"type":"point","filled":false,"strokeWidth":2,"size":400,"opacity":1},"encoding":{
      "shape":{"field":"k","type":"nominal","scale":{"domain":["Start","Track","Yaw","End"],"range":["M-3.8,0M3.8,0M-0.5,-0.5L0.5,0.5M-0.5,0.5L0.5,-0.5","M-3.8,0L-2.3,0M-1.8,0L-1.5,0M-0.95,0L0.95,0M1.5,0L1.8,0M2.3,0L3.8,0","M-3.7,0L3.6,0M1.8,-0.7L3.6,0L1.8,0.7","M-3.8,0M3.8,0M0.75,0A0.75,0.75 0 1 1 -0.75,0A0.75,0.75 0 1 1 0.75,0Z"]},"legend":{"orient":"none","legendX":136,"legendY":-77,"direction":"horizontal","title":null}},
      "color":{"field":"k","type":"nominal","scale":{"domain":["Start","Track","Yaw","End"],"range":["#1a1a1a","#2b55a6","#c0489e","#1a1a1a"]},"legend":{"orient":"none","legendX":136,"legendY":-77,"direction":"horizontal","title":null}}}}
   ]},
  {"width":355,"height":168,"title":"Cenário C7",
   "encoding":{"x":{"field":"h","type":"quantitative","scale":{"domain":[-37.6,74.9],"nice":false,"zero":false},"axis":{"title":null,"values":[-35,-30,-25,-20,-15,-10,-5,0,5,10,15,20,25,30,35,40,45,50,55,60,65,70],"labelExpr":"datum.value % 20 === 0 ? '' + datum.value : ''"}},
               "y":{"field":"v","type":"quantitative","scale":{"domain":[0,53.8],"nice":false,"zero":false},"axis":{"title":"Eixo-x [m]","values":[0,5,10,15,20,25,30,35,40,45,50],"labelExpr":"datum.value % 20 === 0 ? '' + datum.value : ''"}}},
   "layer":[
    {"data":{"name":"track"},"transform":[{"filter":"datum.s === 'C7'"}],"mark":{"type":"line","clip":true,"color":"#2b55a6","strokeWidth":2,"strokeDash":[8,3,2,3]},"encoding":{"order":{"field":"i","type":"quantitative"}}},
    {"data":{"name":"yaw"},"transform":[{"filter":"datum.s === 'C7'"}],"mark":{"type":"rule","clip":true,"color":"#c0489e","strokeWidth":1},"encoding":{"x2":{"field":"ht"},"y2":{"field":"vt"}}},
    {"data":{"name":"yaw"},"transform":[{"filter":"datum.s === 'C7'"}],"mark":{"type":"point","clip":true,"shape":"M-0.45,1L0,0L0.45,1","filled":false,"color":"#c0489e","strokeWidth":1,"size":169,"opacity":1},"encoding":{"angle":{"field":"a","type":"quantitative","scale":null}}},
    {"data":{"name":"pts"},"transform":[{"filter":"datum.s === 'C7'"}],"mark":{"type":"point","filled":false,"strokeWidth":2,"size":400,"opacity":1},"encoding":{
      "shape":{"field":"k","type":"nominal","scale":{"domain":["Start","Track","Yaw","End"],"range":["M-3.8,0M3.8,0M-0.5,-0.5L0.5,0.5M-0.5,0.5L0.5,-0.5","M-3.8,0L-2.3,0M-1.8,0L-1.5,0M-0.95,0L0.95,0M1.5,0L1.8,0M2.3,0L3.8,0","M-3.7,0L3.6,0M1.8,-0.7L3.6,0L1.8,0.7","M-3.8,0M3.8,0M0.75,0A0.75,0.75 0 1 1 -0.75,0A0.75,0.75 0 1 1 0.75,0Z"]},"legend":{"orient":"none","legendX":136,"legendY":-77,"direction":"horizontal","title":null}},
      "color":{"field":"k","type":"nominal","scale":{"domain":["Start","Track","Yaw","End"],"range":["#1a1a1a","#2b55a6","#c0489e","#1a1a1a"]},"legend":{"orient":"none","legendX":136,"legendY":-77,"direction":"horizontal","title":null}}}}
   ]},
  {"width":354,"height":168,"title":"Cenário C8",
   "encoding":{"x":{"field":"h","type":"quantitative","scale":{"domain":[-70.3,83.9],"nice":false,"zero":false},"axis":{"title":"Eixo-y [m]","values":[-70,-65,-60,-55,-50,-45,-40,-35,-30,-25,-20,-15,-10,-5,0,5,10,15,20,25,30,35,40,45,50,55,60,65,70,75,80],"labelExpr":"datum.value % 20 === 0 && datum.value < 70 ? '' + datum.value : ''"}},
               "y":{"field":"v","type":"quantitative","scale":{"domain":[-41,32.7],"nice":false,"zero":false},"axis":{"title":null,"values":[-40,-35,-30,-25,-20,-15,-10,-5,0,5,10,15,20,25,30],"labelExpr":"datum.value % 20 === 0 ? '' + datum.value : ''"}}},
   "layer":[
    {"data":{"name":"track"},"transform":[{"filter":"datum.s === 'C3'"}],"mark":{"type":"line","clip":true,"color":"#2b55a6","strokeWidth":2,"strokeDash":[8,3,2,3]},"encoding":{"order":{"field":"i","type":"quantitative"}}},
    {"data":{"name":"yaw"},"transform":[{"filter":"datum.s === 'C3'"}],"mark":{"type":"rule","clip":true,"color":"#c0489e","strokeWidth":1},"encoding":{"x2":{"field":"ht"},"y2":{"field":"vt"}}},
    {"data":{"name":"yaw"},"transform":[{"filter":"datum.s === 'C3'"}],"mark":{"type":"point","clip":true,"shape":"M-0.45,1L0,0L0.45,1","filled":false,"color":"#c0489e","strokeWidth":1,"size":169,"opacity":1},"encoding":{"angle":{"field":"a","type":"quantitative","scale":null}}},
    {"data":{"name":"pts"},"transform":[{"filter":"datum.s === 'C3'"}],"mark":{"type":"point","filled":false,"strokeWidth":2,"size":400,"opacity":1},"encoding":{
      "shape":{"field":"k","type":"nominal","scale":{"domain":["Start","Track","Yaw","End"],"range":["M-3.8,0M3.8,0M-0.5,-0.5L0.5,0.5M-0.5,0.5L0.5,-0.5","M-3.8,0L-2.3,0M-1.8,0L-1.5,0M-0.95,0L0.95,0M1.5,0L1.8,0M2.3,0L3.8,0","M-3.7,0L3.6,0M1.8,-0.7L3.6,0L1.8,0.7","M-3.8,0M3.8,0M0.75,0A0.75,0.75 0 1 1 -0.75,0A0.75,0.75 0 1 1 0.75,0Z"]},"legend":{"orient":"none","legendX":136,"legendY":-77,"direction":"horizontal","title":null}},
      "color":{"field":"k","type":"nominal","scale":{"domain":["Start","Track","Yaw","End"],"range":["#1a1a1a","#2b55a6","#c0489e","#1a1a1a"]},"legend":{"orient":"none","legendX":136,"legendY":-77,"direction":"horizontal","title":null}}}}
   ]},
  {"width":355,"height":168,"title":"Cenário C9",
   "encoding":{"x":{"field":"h","type":"quantitative","scale":{"domain":[-91.4,63.3],"nice":false,"zero":false},"axis":{"title":"Eixo-y [m]","values":[-90,-85,-80,-75,-70,-65,-60,-55,-50,-45,-40,-35,-30,-25,-20,-15,-10,-5,0,5,10,15,20,25,30,35,40,45,50,55,60],"labelExpr":"datum.value % 20 === 0 ? '' + datum.value : ''"}},
               "y":{"field":"v","type":"quantitative","scale":{"domain":[-3.3,69.7],"nice":false,"zero":false},"axis":{"title":"Eixo-x [m]","values":[0,5,10,15,20,25,30,35,40,45,50,55,60,65],"labelExpr":"datum.value % 20 === 0 ? '' + datum.value : ''"}}},
   "layer":[
    {"data":{"name":"track"},"transform":[{"filter":"datum.s === 'C9'"}],"mark":{"type":"line","clip":true,"color":"#2b55a6","strokeWidth":2,"strokeDash":[8,3,2,3]},"encoding":{"order":{"field":"i","type":"quantitative"}}},
    {"data":{"name":"yaw"},"transform":[{"filter":"datum.s === 'C9'"}],"mark":{"type":"rule","clip":true,"color":"#c0489e","strokeWidth":1},"encoding":{"x2":{"field":"ht"},"y2":{"field":"vt"}}},
    {"data":{"name":"yaw"},"transform":[{"filter":"datum.s === 'C9'"}],"mark":{"type":"point","clip":true,"shape":"M-0.45,1L0,0L0.45,1","filled":false,"color":"#c0489e","strokeWidth":1,"size":169,"opacity":1},"encoding":{"angle":{"field":"a","type":"quantitative","scale":null}}},
    {"data":{"name":"pts"},"transform":[{"filter":"datum.s === 'C9'"}],"mark":{"type":"point","filled":false,"strokeWidth":2,"size":400,"opacity":1},"encoding":{
      "shape":{"field":"k","type":"nominal","scale":{"domain":["Start","Track","Yaw","End"],"range":["M-3.8,0M3.8,0M-0.5,-0.5L0.5,0.5M-0.5,0.5L0.5,-0.5","M-3.8,0L-2.3,0M-1.8,0L-1.5,0M-0.95,0L0.95,0M1.5,0L1.8,0M2.3,0L3.8,0","M-3.7,0L3.6,0M1.8,-0.7L3.6,0L1.8,0.7","M-3.8,0M3.8,0M0.75,0A0.75,0.75 0 1 1 -0.75,0A0.75,0.75 0 1 1 0.75,0Z"]},"legend":{"orient":"none","legendX":136,"legendY":-77,"direction":"horizontal","title":null}},
      "color":{"field":"k","type":"nominal","scale":{"domain":["Start","Track","Yaw","End"],"range":["#1a1a1a","#2b55a6","#c0489e","#1a1a1a"]},"legend":{"orient":"none","legendX":136,"legendY":-77,"direction":"horizontal","title":null}}}}
   ]}
]
}
